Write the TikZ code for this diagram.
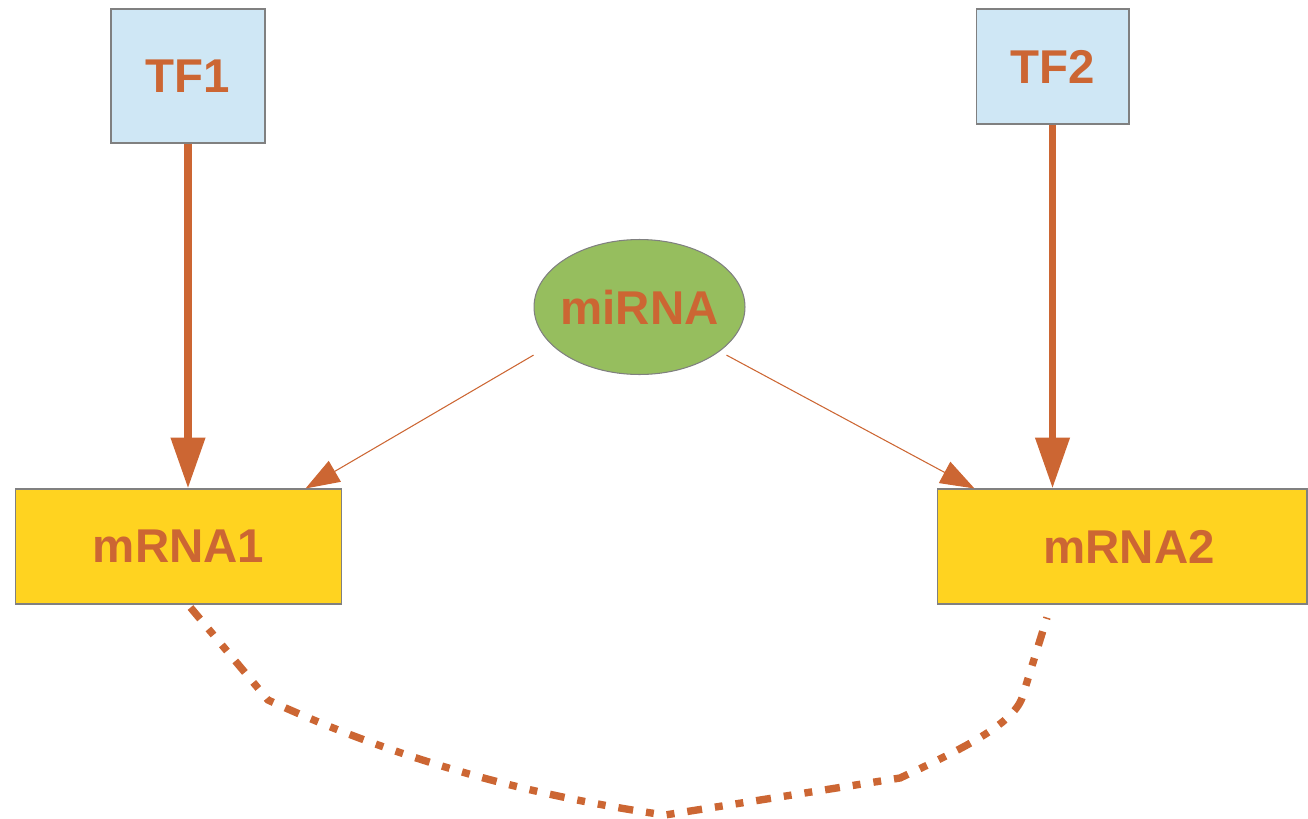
\documentclass[tikz,border=0pt]{standalone}
\usepackage{fontspec}
\setmainfont{Liberation Sans}
\usetikzlibrary{positioning, arrows.meta, shapes}
\definecolor{grnorange}{RGB}{204, 102, 51}
\definecolor{grnblue}{RGB}{207, 231, 245}
\definecolor{grnyellow}{RGB}{255, 211, 32}
\definecolor{grngreen}{RGB}{150, 190, 94}
\definecolor{grnedge}{RGB}{128, 128, 128}

\begin{document}
\begin{tikzpicture}[x=0.02cm, y=-0.02cm,
    every node/.style={font=\fontsize{27}{30}\selectfont\bfseries, text=grnorange,
                       draw=grnedge, line width=0.6pt, inner sep=0pt},
    tfbox/.style={fill=grnblue, minimum width=3.08cm},
    mrnabox/.style={fill=grnyellow, minimum height=2.3cm},
    tfarrow/.style={-{Triangle[length=1.02cm, width=0.66cm]}, line width=4.3pt, draw=grnorange},
    mirarrow/.style={-{Triangle[length=0.68cm, width=0.48cm]}, line width=0.6pt, draw=grnorange},
    coexpr/.style={line width=4.2pt, draw=grnorange,
                   dash pattern=on 8.5pt off 7.4pt on 4.5pt off 7.4pt on 4.5pt off 7.4pt}]
  \useasboundingbox (0,0) rectangle (1308,818);

  \node[tfbox, minimum height=2.68cm] (tf1) at (188,76) {TF1};
  \node[tfbox, minimum width=3.06cm, minimum height=2.3cm] (tf2) at (1052.5,66.5) {TF2};
  \node[ellipse, fill=grngreen, minimum width=4.22cm, minimum height=2.7cm] (mirna)
        at (639.5,307) {\makebox[0pt]{miRNA}};
  \node[mrnabox, minimum width=6.54cm] (mrna1) at (178.5,546.5) {mRNA1};
  \node[mrnabox, minimum width=7.4cm] (mrna2) at (1122,546.5) {\hspace{0.28cm}mRNA2};

  % end points of the co-expression curve
  \coordinate (cstart) at ([shift={(12,3)}]mrna1.south);
  \coordinate (cend) at ([shift={(-75,13)}]mrna2.south);

  \draw[tfarrow] (tf1.south) -- (tf1.south |- mrna1.north);
  \draw[tfarrow] (tf2.south) -- (tf2.south |- mrna2.north);
  \draw[mirarrow] ([shift={(-31,0)}]mirna.south west) -- ([shift={(-37,0)}]mrna1.north east);
  \draw[mirarrow] ([shift={(12,0)}]mirna.south east) -- ([shift={(38,0)}]mrna2.north west);
  \draw[coexpr] (cstart) -- (268,700) .. controls (420,770) and (560,800) .. (665,815)
        -- (900,778) .. controls (960,750) and (1012,725) .. (1022,698) -- (cend);
\end{tikzpicture}
\end{document}
